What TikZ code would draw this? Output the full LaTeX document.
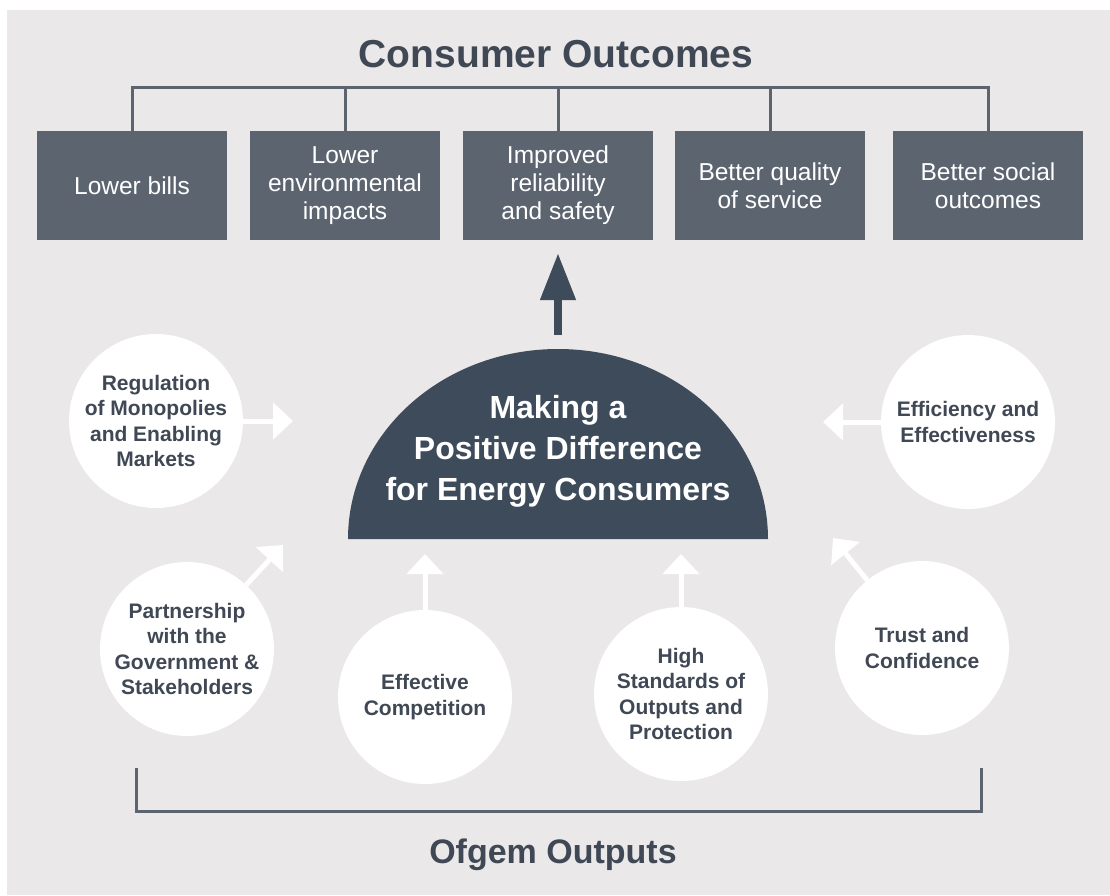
\documentclass[tikz,border=0pt]{standalone}
\usepackage{fontspec}
\setmainfont{Liberation Sans}
\usetikzlibrary{arrows.meta}
\definecolor{paper}{HTML}{EAE8E8}
\definecolor{slate}{HTML}{5C6470}
\definecolor{navy}{HTML}{3E4B5A}
\definecolor{ink}{HTML}{3F4854}
\tikzset{
  heading/.style={text=ink,anchor=base,font=\bfseries\fontsize{39}{47}\selectfont},
  outcome/.style={shape=rectangle,fill=slate,text=white,align=center,minimum width=190pt,minimum height=109pt,inner sep=0pt,font=\fontsize{24.5}{28}\selectfont},
  output/.style={shape=circle,fill=white,text=ink,align=center,minimum size=174pt,inner sep=0pt,font=\bfseries\fontsize{21}{25.5}\selectfont},
  bar/.style={draw=slate,line width=3pt},
  feed/.style={draw=white,line width=5pt,-{Triangle[width=36pt,length=20pt]}},
  lift/.style={draw=navy,line width=8pt,-{Triangle[width=34pt,length=47pt]}}
}
\begin{document}
\begin{tikzpicture}[x=1pt,y=-1pt]
\useasboundingbox (0,0) rectangle (1110,895);
\fill[paper] (7,10) rectangle (1110,895);

\node[heading] (0) at (556,67) {Consumer Outcomes};
\node[outcome] (1) at (132,185.5) {Lower bills};
\node[outcome] (2) at (345,185.5) {Lower\\environmental\\impacts};
\node[outcome] (3) at (558,185.5) {Improved\\reliability\\and safety};
\node[outcome] (4) at (770,185.5) {Better quality\\of service};
\node[outcome] (5) at (988,185.5) {Better social\\outcomes};

\coordinate (6) at (0,87);
\path[bar] (1.north) |- (5.north |- 6) -- (5.north);
\foreach \n in {2,3,4} \path[bar] (\n.north) -- (\n.north |- 6);

\fill[navy] (348,539) arc[start angle=180,end angle=0,x radius=210pt,y radius=190pt] -- cycle;
\node[text=white,align=center,font=\bfseries\fontsize{32}{41}\selectfont] (7) at (558,451) {Making a\\Positive Difference\\for Energy Consumers};
\coordinate (8) at (558,350);
\path[lift,shorten <=15pt,shorten >=13pt] (8) -- (3);

\node[output] (9) at (156,421) {Regulation\\of Monopolies\\and Enabling\\Markets};
\node[output] (10) at (187,649) {Partnership\\with the\\Government \&\\Stakeholders};
\node[output] (11) at (425,697) {Effective\\Competition};
\node[output] (12) at (681,694) {High\\Standards of\\Outputs and\\Protection};
\node[output] (13) at (968,422) {Efficiency and\\Effectiveness};
\node[output] (14) at (922,648) {Trust and\\Confidence};

\coordinate (15) at (293,421);
\coordinate (16) at (283,545);
\coordinate (17) at (425,554);
\coordinate (18) at (681,554);
\coordinate (19) at (823,422);
\coordinate (20) at (833,538);
\path[feed] (9) -- (15);
\path[feed] (10) -- (16);
\path[feed] (11) -- (17);
\path[feed] (12) -- (18);
\path[feed] (13) -- (19);
\path[feed] (14) -- (20);

\coordinate (21) at (136,768);
\coordinate (22) at (981,768);
\path[bar] (21) -- ++(0,43) -| (22);
\node[heading,font=\bfseries\fontsize{34}{41}\selectfont] (23) at (553,863) {Ofgem Outputs};
\end{tikzpicture}
\end{document}
